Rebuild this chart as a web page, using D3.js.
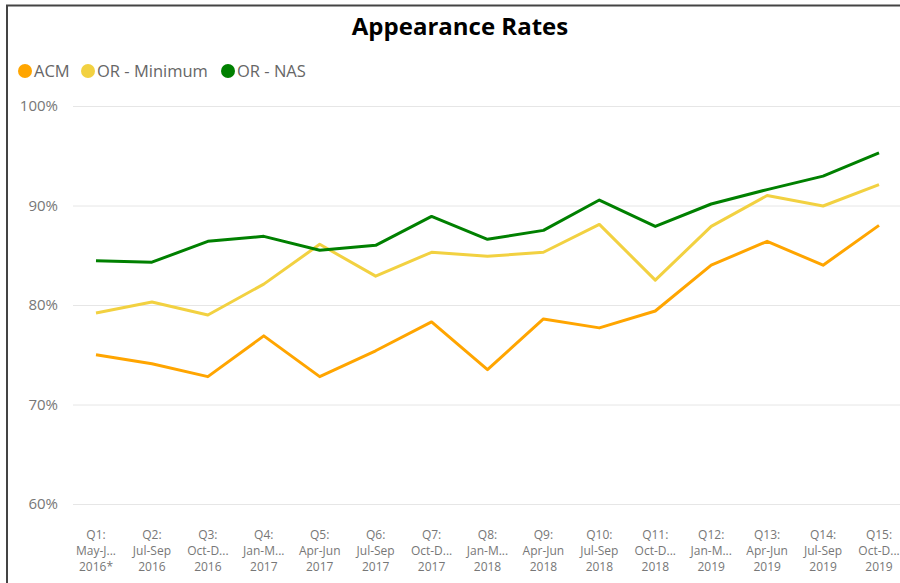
<!DOCTYPE html>
<html>
<head>
<meta charset="utf-8">
<script src="https://cdnjs.cloudflare.com/ajax/libs/d3/7.8.5/d3.min.js"></script>
<style>
  body { margin: 0; background: #fff; }
  svg { display: block; }
</style>
</head>
<body>
<div id="chart"></div>
<script>
var width = 900;
var height = 583;

// quarters, one label per line
var quarters = ["Q1:", "Q2:", "Q3:", "Q4:", "Q5:", "Q6:", "Q7:", "Q8:", "Q9:", "Q10:", "Q11:", "Q12:", "Q13:", "Q14:", "Q15:"];
var periods = ["May-J...", "Jul-Sep", "Oct-D...", "Jan-M...", "Apr-Jun", "Jul-Sep", "Oct-D...", "Jan-M...", "Apr-Jun", "Jul-Sep", "Oct-D...", "Jan-M...", "Apr-Jun", "Jul-Sep", "Oct-D..."];
var years = ["2016*", "2016", "2016", "2017", "2017", "2017", "2017", "2018", "2018", "2018", "2018", "2019", "2019", "2019", "2019"];

var seriesNames = ["ACM", "OR - Minimum", "OR - NAS"];
var acm = [75.0, 74.1, 72.8, 76.9, 72.8, 75.4, 78.3, 73.5, 78.6, 77.7, 79.4, 84.0, 86.4, 84.0, 88.0];
var orMin = [79.2, 80.3, 79.0, 82.1, 86.1, 82.9, 85.3, 84.9, 85.3, 88.1, 82.5, 87.9, 91.0, 89.95, 92.1];
var orNas = [84.45, 84.3, 86.4, 86.9, 85.5, 86.0, 88.9, 86.6, 87.5, 90.55, 87.9, 90.15, 91.6, 92.95, 95.3];
var yTicks = [60, 70, 80, 90, 100];

var colors = ["#FFA500", "#F2D141", "#008000"];
var allSeries = [acm, orMin, orNas];

var svg = d3.select("#chart")
    .append("svg")
    .attr("width", width)
    .attr("height", height)
    .attr("font-family", "'Segoe UI', 'Open Sans', 'Noto Sans', sans-serif");

// frame (top + left edge only)
svg.append("line")
    .attr("x1", 6).attr("x2", width).attr("y1", 5.5).attr("y2", 5.5)
    .attr("stroke", "#444").attr("stroke-width", 2);
svg.append("line")
    .attr("x1", 7).attr("x2", 7).attr("y1", 5).attr("y2", height)
    .attr("stroke", "#444").attr("stroke-width", 2);

svg.append("text")
    .attr("x", 460)
    .attr("y", 35)
    .attr("text-anchor", "middle")
    .attr("font-size", 24)
    .attr("font-weight", "bold")
    .attr("fill", "#000")
    .text("Appearance Rates");

// legend
var legendX = [25, 88, 228];
var legend = svg.selectAll(".legend")
    .data(seriesNames)
    .enter().append("g")
      .attr("class", "legend")
      .attr("transform", function(d, i) { return "translate(" + legendX[i] + ",71)"; });
legend.append("circle")
    .attr("r", 7)
    .attr("fill", function(d, i) { return colors[i]; });
legend.append("text")
    .attr("x", 9)
    .attr("y", 6)
    .attr("font-size", 16.5)
    .attr("fill", "#666")
    .text(function(d) { return d; });

var x = d3.scalePoint()
    .domain(d3.range(quarters.length))
    .range([96, 879]);

var y = d3.scaleLinear()
    .domain([60, 100])
    .range([504, 106]);

// gridlines
svg.append("g")
    .attr("transform", "translate(73,0)")
    .call(d3.axisLeft(y).tickValues(yTicks).tickSize(-(width - 73)).tickFormat(function(d) { return d + "%"; }))
    .call(function(g) { g.select(".domain").remove(); })
    .call(function(g) {
      g.selectAll(".tick line").attr("stroke", "#e6e6e6").attr("stroke-width", 1);
      g.selectAll(".tick text")
        .attr("x", -15)
        .attr("font-size", 15)
        .attr("fill", "#777")
        .attr("font-family", "'Segoe UI', 'Open Sans', 'Noto Sans', sans-serif");
    });

// x axis labels, three lines each
var xLab = svg.append("g")
    .attr("font-size", 12)
    .attr("fill", "#777")
    .attr("text-anchor", "middle");
var lab = xLab.selectAll("text")
    .data(d3.range(quarters.length))
    .enter().append("text")
      .attr("x", function(d) { return x(d); })
      .attr("y", 539);
lab.append("tspan").attr("x", function(d) { return x(d); }).attr("dy", 0).text(function(d) { return quarters[d]; });
lab.append("tspan").attr("x", function(d) { return x(d); }).attr("dy", 15.5).text(function(d) { return periods[d]; });
lab.append("tspan").attr("x", function(d) { return x(d); }).attr("dy", 16).text(function(d) { return years[d]; });

var line = d3.line()
    .x(function(d, i) { return x(i); })
    .y(function(d) { return y(d); });

svg.selectAll(".series")
    .data(allSeries)
    .enter().append("path")
      .attr("class", "series")
      .attr("fill", "none")
      .attr("stroke", function(d, i) { return colors[i]; })
      .attr("stroke-width", 3)
      .attr("stroke-linejoin", "round")
      .attr("d", line);
</script>
</body>
</html>
